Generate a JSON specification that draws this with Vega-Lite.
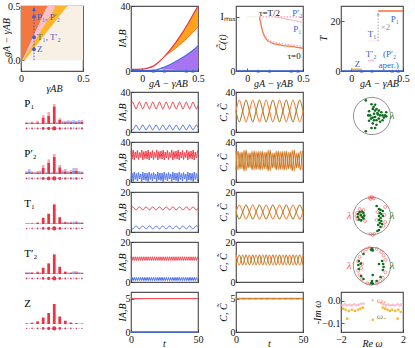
{
"$schema": "https://vega.github.io/schema/vega-lite/v6.json",
"padding": {"left": 0, "top": 0, "right": 0, "bottom": 0},
"config": {
  "view": {"stroke": "#555", "strokeWidth": 1.2},
  "font": "Liberation Serif",
  "axis": {"labelFont": "Liberation Serif", "titleFont": "Liberation Serif", "labelFontSize": 10, "titleFontSize": 10, "titleFontWeight": "normal", "titleFontStyle": "italic", "grid": false, "domain": false, "tickSize": -3, "tickColor": "#333", "tickWidth": 0.8, "labelColor": "#111", "titleColor": "#111", "labelPadding": 3, "labelFlush": false, "labelOverlap": false},
  "axisLeft": {"titleAngle": -90, "titleBaseline": "middle", "titleAlign": "center", "labelPadding": 4},
  "axisBottom": {"titleBaseline": "middle", "titleAlign": "center", "labelPadding": 5},
  "text": {"font": "Liberation Serif", "fontSize": 10}
},
"datasets": {
"top2": [
  {"x":-0.1,"r":1,"b":0.3},{"x":-0.05,"r":1,"b":0.3},{"x":0,"r":1.1,"b":0.3},{"x":0.05,"r":1.8,"b":0.3},{"x":0.1,"r":3,"b":0.5},
  {"x":0.15,"r":5.5,"b":1.2,"bl":1.2},{"x":0.2,"r":9,"rl":9,"b":2.5,"bl":0.8},{"x":0.25,"r":13,"rl":11.5,"b":4,"bl":0.7},{"x":0.3,"r":17.5,"rl":14,"b":5.8,"bl":0.6},
  {"x":0.35,"r":22.5,"rl":17,"b":7.8,"bl":0.6},{"x":0.4,"r":28,"rl":20,"b":10,"bl":0.6},{"x":0.45,"r":34,"rl":23.5,"b":12.5,"bl":0.6},{"x":0.5,"r":40,"rl":27,"b":15.5,"bl":0.6}],
"bars": [
{"r":"P1","i":-10,"s":"A","h":0.11,"l":0.05},{"r":"P1","i":-9,"s":"B","h":0.07,"l":0.03},{"r":"P1","i":-8,"s":"A","h":0.13,"l":0.06},{"r":"P1","i":-7,"s":"B","h":0.07,"l":0.03},{"r":"P1","i":-6,"s":"A","h":0.16,"l":0.07},{"r":"P1","i":-5,"s":"B","h":0.05,"l":0.02},{"r":"P1","i":-4,"s":"A","h":0.44,"l":0.31},{"r":"P1","i":-3,"s":"B","h":0.07,"l":0.03},{"r":"P1","i":-2,"s":"A","h":0.6,"l":0.4},{"r":"P1","i":-1,"s":"B","h":0.08,"l":0.04},{"r":"P1","i":0,"s":"A","h":1,"l":0.87},{"r":"P1","i":1,"s":"B","h":0.11,"l":0.05},{"r":"P1","i":2,"s":"A","h":0.29,"l":0.2},{"r":"P1","i":3,"s":"B","h":0.16,"l":0.08},{"r":"P1","i":4,"s":"A","h":0.16,"l":0.08},{"r":"P1","i":5,"s":"B","h":0.19,"l":0.1},{"r":"P1","i":6,"s":"A","h":0.17,"l":0.08},{"r":"P1","i":7,"s":"B","h":0.2,"l":0.1},{"r":"P1","i":8,"s":"A","h":0.15,"l":0.08},{"r":"P1","i":9,"s":"B","h":0.2,"l":0.1},{"r":"P1","i":10,"s":"A","h":0.2,"l":0.1},
{"r":"P2","i":-10,"s":"A","h":0.13,"l":0.07},{"r":"P2","i":-9,"s":"B","h":0.25,"l":0.12},{"r":"P2","i":-8,"s":"A","h":0.13,"l":0.07},{"r":"P2","i":-7,"s":"B","h":0.1,"l":0.05},{"r":"P2","i":-6,"s":"A","h":0.15,"l":0.07},{"r":"P2","i":-5,"s":"B","h":0.17,"l":0.08},{"r":"P2","i":-4,"s":"A","h":0.45,"l":0.3},{"r":"P2","i":-3,"s":"B","h":0.1,"l":0.05},{"r":"P2","i":-2,"s":"A","h":0.73,"l":0.55},{"r":"P2","i":-1,"s":"B","h":0.1,"l":0.05},{"r":"P2","i":0,"s":"A","h":1,"l":0.85},{"r":"P2","i":1,"s":"B","h":0.12,"l":0.06},{"r":"P2","i":2,"s":"A","h":0.45,"l":0.32},{"r":"P2","i":3,"s":"B","h":0.2,"l":0.1},{"r":"P2","i":4,"s":"A","h":0.25,"l":0.12},{"r":"P2","i":5,"s":"B","h":0.15,"l":0.08},{"r":"P2","i":6,"s":"A","h":0.2,"l":0.1},{"r":"P2","i":7,"s":"B","h":0.3,"l":0.15},{"r":"P2","i":8,"s":"A","h":0.3,"l":0.15},{"r":"P2","i":9,"s":"B","h":0.15,"l":0.08},{"r":"P2","i":10,"s":"A","h":0.13,"l":0.07},
{"r":"T1","i":-10,"s":"A","h":0.04,"l":0.02},{"r":"T1","i":-9,"s":"B","h":0.04,"l":0.02},{"r":"T1","i":-8,"s":"A","h":0.06,"l":0.03},{"r":"T1","i":-7,"s":"B","h":0.03,"l":0.01},{"r":"T1","i":-6,"s":"A","h":0.1,"l":0.05},{"r":"T1","i":-5,"s":"B","h":0.03,"l":0.01},{"r":"T1","i":-4,"s":"A","h":0.33,"l":0.3},{"r":"T1","i":-3,"s":"B","h":0.04,"l":0.02},{"r":"T1","i":-2,"s":"A","h":0.53,"l":0.5},{"r":"T1","i":-1,"s":"B","h":0.04,"l":0.02},{"r":"T1","i":0,"s":"A","h":1,"l":0.97},{"r":"T1","i":1,"s":"B","h":0.05,"l":0.02},{"r":"T1","i":2,"s":"A","h":0.36,"l":0.33},{"r":"T1","i":3,"s":"B","h":0.1,"l":0.05},{"r":"T1","i":4,"s":"A","h":0.12,"l":0.08},{"r":"T1","i":5,"s":"B","h":0.1,"l":0.05},{"r":"T1","i":6,"s":"A","h":0.12,"l":0.06},{"r":"T1","i":7,"s":"B","h":0.12,"l":0.06},{"r":"T1","i":8,"s":"A","h":0.14,"l":0.07},{"r":"T1","i":9,"s":"B","h":0.1,"l":0.05},{"r":"T1","i":10,"s":"A","h":0.1,"l":0.05},
{"r":"T2","i":-10,"s":"A","h":0.1,"l":0.05},{"r":"T2","i":-9,"s":"B","h":0.1,"l":0.05},{"r":"T2","i":-8,"s":"A","h":0.1,"l":0.06},{"r":"T2","i":-7,"s":"B","h":0.04,"l":0.02},{"r":"T2","i":-6,"s":"A","h":0.13,"l":0.08},{"r":"T2","i":-5,"s":"B","h":0.08,"l":0.04},{"r":"T2","i":-4,"s":"A","h":0.33,"l":0.3},{"r":"T2","i":-3,"s":"B","h":0.05,"l":0.02},{"r":"T2","i":-2,"s":"A","h":0.55,"l":0.52},{"r":"T2","i":-1,"s":"B","h":0.04,"l":0.02},{"r":"T2","i":0,"s":"A","h":1,"l":0.97},{"r":"T2","i":1,"s":"B","h":0.05,"l":0.02},{"r":"T2","i":2,"s":"A","h":0.38,"l":0.35},{"r":"T2","i":3,"s":"B","h":0.05,"l":0.02},{"r":"T2","i":4,"s":"A","h":0.14,"l":0.1},{"r":"T2","i":5,"s":"B","h":0.08,"l":0.04},{"r":"T2","i":6,"s":"A","h":0.1,"l":0.05},{"r":"T2","i":7,"s":"B","h":0.14,"l":0.07},{"r":"T2","i":8,"s":"A","h":0.14,"l":0.07},{"r":"T2","i":9,"s":"B","h":0.1,"l":0.05},{"r":"T2","i":10,"s":"A","h":0.08,"l":0.04},
{"r":"Z","i":-10,"s":"A","h":0.03,"l":0.03},{"r":"Z","i":-9,"s":"B","h":0.01,"l":0.01},{"r":"Z","i":-8,"s":"A","h":0.06,"l":0.06},{"r":"Z","i":-7,"s":"B","h":0.01,"l":0.01},{"r":"Z","i":-6,"s":"A","h":0.13,"l":0.13},{"r":"Z","i":-5,"s":"B","h":0.01,"l":0.01},{"r":"Z","i":-4,"s":"A","h":0.32,"l":0.32},{"r":"Z","i":-3,"s":"B","h":0.01,"l":0.01},{"r":"Z","i":-2,"s":"A","h":0.55,"l":0.55},{"r":"Z","i":-1,"s":"B","h":0.01,"l":0.01},{"r":"Z","i":0,"s":"A","h":1,"l":1},{"r":"Z","i":1,"s":"B","h":0.01,"l":0.01},{"r":"Z","i":2,"s":"A","h":0.37,"l":0.37},{"r":"Z","i":3,"s":"B","h":0.01,"l":0.01},{"r":"Z","i":4,"s":"A","h":0.16,"l":0.16},{"r":"Z","i":5,"s":"B","h":0.01,"l":0.01},{"r":"Z","i":6,"s":"A","h":0.07,"l":0.07},{"r":"Z","i":7,"s":"B","h":0.01,"l":0.01},{"r":"Z","i":8,"s":"A","h":0.04,"l":0.04},{"r":"Z","i":9,"s":"B","h":0.01,"l":0.01},{"r":"Z","i":10,"s":"A","h":0.02,"l":0.02}
],
"s5": [
{"t":0,"pa":26.5,"pb":4.5,"ta":11.8,"tb":2.3},{"t":1.25,"pa":30,"pb":2,"ta":12.6,"tb":1.5},{"t":2.5,"pa":26.5,"pb":4.5,"ta":11.8,"tb":2.3},{"t":3.75,"pa":23,"pb":7,"ta":11,"tb":3.1},
{"t":5,"pa":26.5,"pb":4.5,"ta":11.8,"tb":2.3},{"t":6.25,"pa":30,"pb":2,"ta":12.6,"tb":1.5},{"t":7.5,"pa":26.5,"pb":4.5,"ta":11.8,"tb":2.3},{"t":8.75,"pa":23,"pb":7,"ta":11,"tb":3.1},
{"t":10,"pa":26.5,"pb":4.5,"ta":11.8,"tb":2.3},{"t":11.25,"pa":30,"pb":2,"ta":12.6,"tb":1.5},{"t":12.5,"pa":26.5,"pb":4.5,"ta":11.8,"tb":2.3},{"t":13.75,"pa":23,"pb":7,"ta":11,"tb":3.1},
{"t":15,"pa":26.5,"pb":4.5,"ta":11.8,"tb":2.3},{"t":16.25,"pa":30,"pb":2,"ta":12.6,"tb":1.5},{"t":17.5,"pa":26.5,"pb":4.5,"ta":11.8,"tb":2.3},{"t":18.75,"pa":23,"pb":7,"ta":11,"tb":3.1},
{"t":20,"pa":26.5,"pb":4.5,"ta":11.8,"tb":2.3},{"t":21.25,"pa":30,"pb":2,"ta":12.6,"tb":1.5},{"t":22.5,"pa":26.5,"pb":4.5,"ta":11.8,"tb":2.3},{"t":23.75,"pa":23,"pb":7,"ta":11,"tb":3.1},
{"t":25,"pa":26.5,"pb":4.5,"ta":11.8,"tb":2.3},{"t":26.25,"pa":30,"pb":2,"ta":12.6,"tb":1.5},{"t":27.5,"pa":26.5,"pb":4.5,"ta":11.8,"tb":2.3},{"t":28.75,"pa":23,"pb":7,"ta":11,"tb":3.1},
{"t":30,"pa":26.5,"pb":4.5,"ta":11.8,"tb":2.3},{"t":31.25,"pa":30,"pb":2,"ta":12.6,"tb":1.5},{"t":32.5,"pa":26.5,"pb":4.5,"ta":11.8,"tb":2.3},{"t":33.75,"pa":23,"pb":7,"ta":11,"tb":3.1},
{"t":35,"pa":26.5,"pb":4.5,"ta":11.8,"tb":2.3},{"t":36.25,"pa":30,"pb":2,"ta":12.6,"tb":1.5},{"t":37.5,"pa":26.5,"pb":4.5,"ta":11.8,"tb":2.3},{"t":38.75,"pa":23,"pb":7,"ta":11,"tb":3.1},
{"t":40,"pa":26.5,"pb":4.5,"ta":11.8,"tb":2.3},{"t":41.25,"pa":30,"pb":2,"ta":12.6,"tb":1.5},{"t":42.5,"pa":26.5,"pb":4.5,"ta":11.8,"tb":2.3},{"t":43.75,"pa":23,"pb":7,"ta":11,"tb":3.1},
{"t":45,"pa":26.5,"pb":4.5,"ta":11.8,"tb":2.3},{"t":46.25,"pa":30,"pb":2,"ta":12.6,"tb":1.5},{"t":47.5,"pa":26.5,"pb":4.5,"ta":11.8,"tb":2.3},{"t":48.75,"pa":23,"pb":7,"ta":11,"tb":3.1},
{"t":50,"pa":26.5,"pb":4.5,"ta":11.8,"tb":2.3}
],
"s10": [
{"t":0,"pc":21,"pd":21,"tc":10,"td":10,"uc":13.5,"ud":8.5},{"t":2.5,"pc":32,"pd":10,"tc":13.5,"td":6.5,"uc":8.5,"ud":13.5},{"t":5,"pc":21,"pd":21,"tc":10,"td":10,"uc":13.5,"ud":8.5},{"t":7.5,"pc":10,"pd":32,"tc":6.5,"td":13.5,"uc":8.5,"ud":13.5},
{"t":10,"pc":21,"pd":21,"tc":10,"td":10,"uc":13.5,"ud":8.5},{"t":12.5,"pc":32,"pd":10,"tc":13.5,"td":6.5,"uc":8.5,"ud":13.5},{"t":15,"pc":21,"pd":21,"tc":10,"td":10,"uc":13.5,"ud":8.5},{"t":17.5,"pc":10,"pd":32,"tc":6.5,"td":13.5,"uc":8.5,"ud":13.5},
{"t":20,"pc":21,"pd":21,"tc":10,"td":10,"uc":13.5,"ud":8.5},{"t":22.5,"pc":32,"pd":10,"tc":13.5,"td":6.5,"uc":8.5,"ud":13.5},{"t":25,"pc":21,"pd":21,"tc":10,"td":10,"uc":13.5,"ud":8.5},{"t":27.5,"pc":10,"pd":32,"tc":6.5,"td":13.5,"uc":8.5,"ud":13.5},
{"t":30,"pc":21,"pd":21,"tc":10,"td":10,"uc":13.5,"ud":8.5},{"t":32.5,"pc":32,"pd":10,"tc":13.5,"td":6.5,"uc":8.5,"ud":13.5},{"t":35,"pc":21,"pd":21,"tc":10,"td":10,"uc":13.5,"ud":8.5},{"t":37.5,"pc":10,"pd":32,"tc":6.5,"td":13.5,"uc":8.5,"ud":13.5},
{"t":40,"pc":21,"pd":21,"tc":10,"td":10,"uc":13.5,"ud":8.5},{"t":42.5,"pc":32,"pd":10,"tc":13.5,"td":6.5,"uc":8.5,"ud":13.5},{"t":45,"pc":21,"pd":21,"tc":10,"td":10,"uc":13.5,"ud":8.5},{"t":47.5,"pc":10,"pd":32,"tc":6.5,"td":13.5,"uc":8.5,"ud":13.5},
{"t":50,"pc":21,"pd":21,"tc":10,"td":10,"uc":13.5,"ud":8.5}
],
"s08": [
{"t":0,"qa":31,"qb":1.5,"va":12.6,"vb":0.7},{"t":0.8,"qa":23,"qb":9,"va":10.8,"vb":2.3},{"t":1.6,"qa":32,"qb":0.5,"va":12.6,"vb":0.7},{"t":2.4,"qa":22,"qb":10,"va":10.8,"vb":2.3},
{"t":3.2,"qa":30,"qb":2.5,"va":12.6,"vb":0.7},{"t":4,"qa":24,"qb":8.5,"va":10.8,"vb":2.3},{"t":4.8,"qa":31.5,"qb":1,"va":12.6,"vb":0.7},{"t":5.6,"qa":22.5,"qb":9.5,"va":10.8,"vb":2.3},
{"t":6.4,"qa":29.5,"qb":3,"va":12.6,"vb":0.7},{"t":7.2,"qa":24.5,"qb":8,"va":10.8,"vb":2.3},{"t":8,"qa":32,"qb":0.5,"va":12.6,"vb":0.7},{"t":8.8,"qa":22,"qb":10,"va":10.8,"vb":2.3},
{"t":9.6,"qa":30.5,"qb":2,"va":12.6,"vb":0.7},{"t":10.4,"qa":23.5,"qb":9,"va":10.8,"vb":2.3},{"t":11.2,"qa":31,"qb":1.5,"va":12.6,"vb":0.7},{"t":12,"qa":23,"qb":9,"va":10.8,"vb":2.3},
{"t":12.8,"qa":32,"qb":0.5,"va":12.6,"vb":0.7},{"t":13.6,"qa":22,"qb":10,"va":10.8,"vb":2.3},{"t":14.4,"qa":30,"qb":2.5,"va":12.6,"vb":0.7},{"t":15.2,"qa":24,"qb":8.5,"va":10.8,"vb":2.3},
{"t":16,"qa":31.5,"qb":1,"va":12.6,"vb":0.7},{"t":16.8,"qa":22.5,"qb":9.5,"va":10.8,"vb":2.3},{"t":17.6,"qa":29.5,"qb":3,"va":12.6,"vb":0.7},{"t":18.4,"qa":24.5,"qb":8,"va":10.8,"vb":2.3},
{"t":19.2,"qa":32,"qb":0.5,"va":12.6,"vb":0.7},{"t":20,"qa":22,"qb":10,"va":10.8,"vb":2.3},{"t":20.8,"qa":30.5,"qb":2,"va":12.6,"vb":0.7},{"t":21.6,"qa":23.5,"qb":9,"va":10.8,"vb":2.3},
{"t":22.4,"qa":31,"qb":1.5,"va":12.6,"vb":0.7},{"t":23.2,"qa":23,"qb":9,"va":10.8,"vb":2.3},{"t":24,"qa":32,"qb":0.5,"va":12.6,"vb":0.7},{"t":24.8,"qa":22,"qb":10,"va":10.8,"vb":2.3},
{"t":25.6,"qa":30,"qb":2.5,"va":12.6,"vb":0.7},{"t":26.4,"qa":24,"qb":8.5,"va":10.8,"vb":2.3},{"t":27.2,"qa":31.5,"qb":1,"va":12.6,"vb":0.7},{"t":28,"qa":22.5,"qb":9.5,"va":10.8,"vb":2.3},
{"t":28.8,"qa":29.5,"qb":3,"va":12.6,"vb":0.7},{"t":29.6,"qa":24.5,"qb":8,"va":10.8,"vb":2.3},{"t":30.4,"qa":32,"qb":0.5,"va":12.6,"vb":0.7},{"t":31.2,"qa":22,"qb":10,"va":10.8,"vb":2.3},
{"t":32,"qa":30.5,"qb":2,"va":12.6,"vb":0.7},{"t":32.8,"qa":23.5,"qb":9,"va":10.8,"vb":2.3},{"t":33.6,"qa":31,"qb":1.5,"va":12.6,"vb":0.7},{"t":34.4,"qa":23,"qb":9,"va":10.8,"vb":2.3},
{"t":35.2,"qa":32,"qb":0.5,"va":12.6,"vb":0.7},{"t":36,"qa":22,"qb":10,"va":10.8,"vb":2.3},{"t":36.8,"qa":30,"qb":2.5,"va":12.6,"vb":0.7},{"t":37.6,"qa":24,"qb":8.5,"va":10.8,"vb":2.3},
{"t":38.4,"qa":31.5,"qb":1,"va":12.6,"vb":0.7},{"t":39.2,"qa":22.5,"qb":9.5,"va":10.8,"vb":2.3},{"t":40,"qa":29.5,"qb":3,"va":12.6,"vb":0.7},{"t":40.8,"qa":24.5,"qb":8,"va":10.8,"vb":2.3},
{"t":41.6,"qa":32,"qb":0.5,"va":12.6,"vb":0.7},{"t":42.4,"qa":22,"qb":10,"va":10.8,"vb":2.3},{"t":43.2,"qa":30.5,"qb":2,"va":12.6,"vb":0.7},{"t":44,"qa":23.5,"qb":9,"va":10.8,"vb":2.3},
{"t":44.8,"qa":31,"qb":1.5,"va":12.6,"vb":0.7},{"t":45.6,"qa":23,"qb":9,"va":10.8,"vb":2.3},{"t":46.4,"qa":32,"qb":0.5,"va":12.6,"vb":0.7},{"t":47.2,"qa":22,"qb":10,"va":10.8,"vb":2.3},
{"t":48,"qa":30,"qb":2.5,"va":12.6,"vb":0.7},{"t":48.8,"qa":24,"qb":8.5,"va":10.8,"vb":2.3},{"t":49.6,"qa":31.5,"qb":1,"va":12.6,"vb":0.7}
],
"s15": [
{"t":0,"wc":31,"wd":12},{"t":1.5,"wc":12,"wd":31},{"t":3,"wc":30,"wd":13},{"t":4.5,"wc":13,"wd":30},{"t":6,"wc":32,"wd":11},{"t":7.5,"wc":11,"wd":32},
{"t":9,"wc":29,"wd":14},{"t":10.5,"wc":14,"wd":29},{"t":12,"wc":31,"wd":12},{"t":13.5,"wc":12,"wd":31},{"t":15,"wc":30.5,"wd":12.5},{"t":16.5,"wc":12.5,"wd":30.5},
{"t":18,"wc":31,"wd":12},{"t":19.5,"wc":12,"wd":31},{"t":21,"wc":30,"wd":13},{"t":22.5,"wc":13,"wd":30},{"t":24,"wc":32,"wd":11},{"t":25.5,"wc":11,"wd":32},
{"t":27,"wc":29,"wd":14},{"t":28.5,"wc":14,"wd":29},{"t":30,"wc":31,"wd":12},{"t":31.5,"wc":12,"wd":31},{"t":33,"wc":30.5,"wd":12.5},{"t":34.5,"wc":12.5,"wd":30.5},
{"t":36,"wc":31,"wd":12},{"t":37.5,"wc":12,"wd":31},{"t":39,"wc":30,"wd":13},{"t":40.5,"wc":13,"wd":30},{"t":42,"wc":32,"wd":11},{"t":43.5,"wc":11,"wd":32},
{"t":45,"wc":29,"wd":14},{"t":46.5,"wc":14,"wd":29},{"t":48,"wc":31,"wd":12},{"t":49.5,"wc":12,"wd":31}
]
},
"columns": 4,
"align": "each",
"bounds": "flush",
"spacing": {"row": 10, "column": 38},
"concat": [
{
 "width": 62, "height": 65,
 "layer": [
  {"data": {"values": [
    {"reg":"b","y":0,"x1":0.03,"x2":0.5},{"reg":"b","y":0.5,"x1":0.373,"x2":0.5},
    {"reg":"o","y":-0.03,"x1":0,"x2":0},{"reg":"o","y":0.5,"x1":0,"x2":0.213},
    {"reg":"p","y":0,"x1":0.012,"x2":0.015},{"reg":"p","y":0.5,"x1":0.213,"x2":0.28},
    {"reg":"y","y":0,"x1":0.015,"x2":0.03},{"reg":"y","y":0.5,"x1":0.28,"x2":0.373}]},
   "mark": {"type": "area", "orient": "horizontal"},
   "encoding": {
    "y": {"field": "y", "type": "quantitative", "scale": {"domain": [-0.1, 0.5]}, "axis": {"values": [0, 0.5], "title": "gA − γAB", "titleX": -15, "titleY": 31}},
    "x": {"field": "x1", "type": "quantitative", "scale": {"domain": [0, 0.5]}, "axis": {"values": [0, 0.1, 0.2, 0.3, 0.4, 0.5], "labelExpr": "datum.value==0?'0':datum.value==0.5?'0.5':''", "title": "γAB", "titleX": 33, "titleY": 17}},
    "x2": {"field": "x2"},
    "color": {"field": "reg", "type": "nominal", "scale": {"domain": ["b","o","p","y"], "range": ["#f8f0e4","#f4773f","#f8bfcc","#ffb42a"]}, "legend": null}
   }},
  {"data": {"values": [{"x": 0.105}]}, "mark": {"type": "rule", "color": "#3a5fd0", "strokeDash": [1.5, 1.5], "strokeWidth": 1}, "encoding": {"x": {"field": "x", "type": "quantitative"}, "y": {"datum": 0}, "y2": {"datum": 0.5}}},
  {"data": {"values": [{"x": 0.105, "y": 0.47}]}, "mark": {"type": "point", "shape": "triangle-up", "filled": true, "color": "#3a5fd0", "size": 16, "opacity": 1}, "encoding": {"x": {"field": "x", "type": "quantitative"}, "y": {"field": "y", "type": "quantitative"}}},
  {"data": {"values": [{"x": 0.105, "y": 0.4, "lab": "P₁, P′₂"}, {"x": 0.105, "y": 0.21, "lab": "T₁, T′₂"}, {"x": 0.105, "y": 0.1, "lab": "Z"}]},
   "mark": {"type": "circle", "color": "#3a5fd0", "size": 14, "opacity": 1}, "encoding": {"x": {"field": "x", "type": "quantitative"}, "y": {"field": "y", "type": "quantitative"}}},
  {"data": {"values": [{"x": 0.105, "y": 0.4, "lab": "P₁, P′₂"}, {"x": 0.105, "y": 0.21, "lab": "T₁, T′₂"}, {"x": 0.105, "y": 0.1, "lab": "Z"}]},
   "mark": {"type": "text", "align": "left", "dx": 3, "color": "#3a5fd0", "fontSize": 9}, "encoding": {"x": {"field": "x", "type": "quantitative"}, "y": {"field": "y", "type": "quantitative"}, "text": {"field": "lab"}}}
 ]
},
{
 "width": 67, "height": 65,
 "layer": [
  {"data": {"name": "top2"}, "transform": [{"filter": "isValid(datum.rl)"}], "mark": {"type": "area", "color": "#ffa31a", "interpolate": "monotone"}, "encoding": {"x": {"field": "x", "type": "quantitative", "scale": {"domain": [-0.1, 0.5]}, "axis": {"values": [0, 0.1, 0.2, 0.3, 0.4, 0.5], "labelExpr": "datum.value==0?'0':datum.value==0.5?'0.5':''", "title": "gA − γAB", "titleX": 37, "titleY": 12}}, "y": {"field": "r", "type": "quantitative", "scale": {"domain": [0, 40]}, "axis": {"values": [0, 10, 20, 30, 40], "labelExpr": "datum.value==0||datum.value==40?datum.label:''", "title": "IA,B", "titleX": -9, "titleY": 32}}, "y2": {"field": "rl"}}},
  {"data": {"name": "top2"}, "transform": [{"filter": "isValid(datum.bl)"}], "mark": {"type": "area", "color": "#a874f2", "interpolate": "monotone"}, "encoding": {"x": {"field": "x", "type": "quantitative"}, "y": {"field": "b", "type": "quantitative"}, "y2": {"field": "bl"}}},
  {"data": {"name": "top2"}, "mark": {"type": "line", "color": "#ee3340", "strokeWidth": 1.2, "interpolate": "monotone"}, "encoding": {"x": {"field": "x", "type": "quantitative"}, "y": {"field": "r", "type": "quantitative"}}},
  {"data": {"name": "top2"}, "transform": [{"filter": "isValid(datum.rl)"}], "mark": {"type": "line", "color": "#f05a28", "strokeWidth": 0.8, "interpolate": "monotone"}, "encoding": {"x": {"field": "x", "type": "quantitative"}, "y": {"field": "rl", "type": "quantitative"}}},
  {"data": {"name": "top2"}, "mark": {"type": "line", "color": "#4a6ee8", "strokeWidth": 1.2, "interpolate": "monotone"}, "encoding": {"x": {"field": "x", "type": "quantitative"}, "y": {"field": "b", "type": "quantitative"}}},
  {"data": {"values": [{"x": -0.1}, {"x": 0.5}]}, "mark": {"type": "line", "color": "#3a5fd0", "strokeWidth": 1.5}, "encoding": {"x": {"field": "x", "type": "quantitative"}, "y": {"datum": 0}}},
  {"data": {"values": [{"g": 0.1}, {"g": 0.2}, {"g": 0.395}, {"g": 0.455}]}, "mark": {"type": "point", "shape": "triangle-up", "filled": true, "color": "#3a5fd0", "size": 12, "opacity": 1}, "encoding": {"x": {"field": "g", "type": "quantitative"}, "y": {"datum": 0}}}
 ]
},
{
 "width": 67, "height": 65,
 "layer": [
  {"data": {"values": [
    {"s":"g","x":0,"v":1},{"s":"g","x":0.11,"v":1},
    {"s":"yl","x":0.11,"v":1},{"s":"yl","x":0.12,"v":0.9},{"s":"yl","x":0.13,"v":0.8},{"s":"yl","x":0.14,"v":0.72},{"s":"yl","x":0.155,"v":0.64},{"s":"yl","x":0.17,"v":0.59},{"s":"yl","x":0.19,"v":0.55},{"s":"yl","x":0.2,"v":0.54},
    {"s":"o","x":0.2,"v":0.54},{"s":"o","x":0.23,"v":0.51},{"s":"o","x":0.27,"v":0.49},{"s":"o","x":0.32,"v":0.47},{"s":"o","x":0.41,"v":0.45},{"s":"o","x":0.5,"v":0.42},
    {"s":"u","x":0.245,"v":1},{"s":"u","x":0.3,"v":0.98},{"s":"u","x":0.35,"v":0.96},{"s":"u","x":0.4,"v":0.94},{"s":"u","x":0.45,"v":0.92},{"s":"u","x":0.5,"v":0.9}]},
   "mark": {"type": "line", "strokeWidth": 1.3, "interpolate": "monotone"},
   "encoding": {
    "x": {"field": "x", "type": "quantitative", "scale": {"domain": [-0.1, 0.5]}, "axis": {"values": [0, 0.1, 0.2, 0.3, 0.4, 0.5], "labelExpr": "datum.value==0?'0':datum.value==0.5?'0.5':''", "title": "gA − γAB", "titleX": 37, "titleY": 12}},
    "y": {"field": "v", "type": "quantitative", "scale": {"domain": [0, 1.2]}, "axis": {"values": [0, 1], "labelExpr": "datum.value==1?'Iₘₐₓ':'0'", "title": "C̃(t)", "titleX": -14, "titleY": 36}},
    "color": {"field": "s", "type": "nominal", "scale": {"domain": ["g","yl","o","u"], "range": ["#cdbfa3","#ffb020","#ff7a3d","#ff7a3d"]}, "legend": null}
   }},
  {"data": {"values": [
    {"s":"d1","x":0.11,"v":1},{"s":"d1","x":0.5,"v":1},
    {"s":"d2","x":0.15,"v":0.68},{"s":"d2","x":0.2,"v":0.56},{"s":"d2","x":0.25,"v":0.53},{"s":"d2","x":0.3,"v":0.51},{"s":"d2","x":0.4,"v":0.48},{"s":"d2","x":0.5,"v":0.46}]},
   "mark": {"type": "line", "strokeDash": [1.5, 1.5], "strokeWidth": 1.2, "color": "#f5a0b4", "interpolate": "monotone"},
   "encoding": {"x": {"field": "x", "type": "quantitative"}, "y": {"field": "v", "type": "quantitative"}, "detail": {"field": "s"}}},
  {"data": {"values": [{"x": -0.1}, {"x": 0.5}]}, "mark": {"type": "line", "color": "#3a5fd0", "strokeWidth": 1.5}, "encoding": {"x": {"field": "x", "type": "quantitative"}, "y": {"datum": 0}}},
  {"data": {"values": [{"g": 0.1}, {"g": 0.2}, {"g": 0.395}, {"g": 0.455}]}, "mark": {"type": "point", "shape": "triangle-up", "filled": true, "color": "#3a5fd0", "size": 12, "opacity": 1}, "encoding": {"x": {"field": "g", "type": "quantitative"}, "y": {"datum": 0}}},
  {"data": {"values": [{"x": 0.2, "y": 1.08, "lab": "τ=T/2"}, {"x": 0.42, "y": 0.28, "lab": "τ=0"}]}, "mark": {"type": "text", "fontSize": 9, "color": "#111"}, "encoding": {"x": {"field": "x", "type": "quantitative"}, "y": {"field": "y", "type": "quantitative"}, "text": {"field": "lab"}}},
  {"data": {"values": [{"x": 0.45, "y": 1.08, "lab": "P′₂"}, {"x": 0.45, "y": 0.78, "lab": "P₁"}]}, "mark": {"type": "text", "fontSize": 9, "color": "#3a5fd0"}, "encoding": {"x": {"field": "x", "type": "quantitative"}, "y": {"field": "y", "type": "quantitative"}, "text": {"field": "lab"}}}
 ]
},
{
 "width": 62, "height": 65,
 "layer": [
  {"data": {"values": [
    {"s":"Z","x":0,"v":0.7},{"s":"Z","x":0.1,"v":0.7},{"s":"T1","x":0.16,"v":12},{"s":"T1","x":0.26,"v":12},
    {"s":"P1","x":0.26,"v":24},{"s":"P1","x":0.5,"v":24},{"s":"T2","x":0.16,"v":4.2},{"s":"T2","x":0.22,"v":4.2}]},
   "mark": {"type": "line", "strokeWidth": 1.6},
   "encoding": {
    "x": {"field": "x", "type": "quantitative", "scale": {"domain": [-0.1, 0.5]}, "axis": {"values": [0, 0.1, 0.2, 0.3, 0.4, 0.5], "labelExpr": "datum.value==0?'0':datum.value==0.5?'0.5':''", "title": "gA − γAB", "titleX": 38, "titleY": 12}},
    "y": {"field": "v", "type": "quantitative", "scale": {"domain": [0, 25]}, "axis": {"values": [0, 10, 20], "labelExpr": "datum.value==10?'':datum.label", "title": "T", "titleX": -18, "titleY": 32}},
    "color": {"field": "s", "type": "nominal", "scale": {"domain": ["Z","T1","P1","T2"], "range": ["#c0c0c0","#ffb020","#f05a30","#f4a8c8"]}, "legend": null}
   }},
  {"data": {"values": [{"x": 0.26, "y1": 12, "y2": 22.8}]}, "mark": {"type": "rule", "color": "#aaa", "strokeDash": [1.5, 1.5], "strokeWidth": 1}, "encoding": {"x": {"field": "x", "type": "quantitative"}, "y": {"field": "y1", "type": "quantitative"}, "y2": {"field": "y2"}}},
  {"data": {"values": [{"x": 0.26, "y": 22.8}]}, "mark": {"type": "point", "shape": "triangle-up", "filled": true, "color": "#aaa", "size": 12, "opacity": 1}, "encoding": {"x": {"field": "x", "type": "quantitative"}, "y": {"field": "y", "type": "quantitative"}}},
  {"data": {"values": [{"x": -0.1}, {"x": 0.5}]}, "mark": {"type": "line", "color": "#3a5fd0", "strokeWidth": 1.5}, "encoding": {"x": {"field": "x", "type": "quantitative"}, "y": {"datum": 0}}},
  {"data": {"values": [{"g": 0.1}, {"g": 0.2}, {"g": 0.395}, {"g": 0.455}]}, "mark": {"type": "point", "shape": "triangle-up", "filled": true, "color": "#3a5fd0", "size": 12, "opacity": 1}, "encoding": {"x": {"field": "g", "type": "quantitative"}, "y": {"datum": 0}}},
  {"data": {"values": [{"x": 0.06, "y": 2.8, "lab": "Z"}, {"x": 0.2, "y": 14.8, "lab": "T₁"}, {"x": 0.42, "y": 20.8, "lab": "P₁"}, {"x": 0.19, "y": 6.9, "lab": "T′₂"}, {"x": 0.37, "y": 6.9, "lab": "(P′₂"}, {"x": 0.36, "y": 2.6, "lab": "aper.)"}]}, "mark": {"type": "text", "fontSize": 9, "color": "#3a5fd0"}, "encoding": {"x": {"field": "x", "type": "quantitative"}, "y": {"field": "y", "type": "quantitative"}, "text": {"field": "lab"}}},
  {"data": {"values": [{"x": 0.33, "y": 17.5, "lab": "×2"}]}, "mark": {"type": "text", "fontSize": 9, "color": "#999"}, "encoding": {"x": {"field": "x", "type": "quantitative"}, "y": {"field": "y", "type": "quantitative"}, "text": {"field": "lab"}}}
 ]
},
{"width": 1, "height": 1, "view": {"stroke": null}, "data": {"values": [{"k": 0}]}, "mark": {"type": "point", "opacity": 0}, "encoding": {"x": {"field": "k", "type": "quantitative", "axis": null}}},
{"width": 1, "height": 1, "view": {"stroke": null}, "data": {"values": [{"k": 0}]}, "mark": {"type": "point", "opacity": 0}, "encoding": {"x": {"field": "k", "type": "quantitative", "axis": null}}},
{"width": 1, "height": 1, "view": {"stroke": null}, "data": {"values": [{"k": 0}]}, "mark": {"type": "point", "opacity": 0}, "encoding": {"x": {"field": "k", "type": "quantitative", "axis": null}}},
{"width": 1, "height": 1, "view": {"stroke": null}, "data": {"values": [{"k": 0}]}, "mark": {"type": "point", "opacity": 0}, "encoding": {"x": {"field": "k", "type": "quantitative", "axis": null}}},

{"width": 72, "height": 40, "view": {"stroke": null},
 "layer": [
  {"data": {"name": "bars"}, "transform": [{"filter": "datum.r=='P1'"}], "mark": {"type": "bar", "width": 2.6}, "encoding": {"x": {"field": "i", "type": "quantitative", "scale": {"domain": [-8.63, 11.1]}, "axis": null}, "y": {"field": "h", "type": "quantitative", "scale": {"domain": [-0.26, 1.435]}, "axis": null}, "y2": {"datum": 0}, "color": {"condition": {"test": "datum.s=='B'", "value": "#b6c2f2"}, "value": "#f5a8b0"}}},
  {"data": {"name": "bars"}, "transform": [{"filter": "datum.r=='P1'"}], "mark": {"type": "bar", "width": 2.6}, "encoding": {"x": {"field": "i", "type": "quantitative"}, "y": {"field": "l", "type": "quantitative"}, "y2": {"datum": 0}, "color": {"condition": {"test": "datum.s=='B'", "value": "#6f8be8"}, "value": "#ee3340"}}},
  {"data": {"name": "bars"}, "transform": [{"filter": "datum.r=='P1'"}], "mark": {"type": "circle", "opacity": 1}, "encoding": {"x": {"field": "i", "type": "quantitative"}, "y": {"datum": -0.22}, "size": {"field": "h", "type": "quantitative", "scale": {"domain": [0, 1], "range": [1.5, 18]}, "legend": null}, "color": {"condition": {"test": "datum.s=='B'", "value": "#aab6f0"}, "value": "#ee3340"}}},
  {"data": {"values": [{"lab": "P₁", "i": -10.8, "v": 1.0}]}, "mark": {"type": "text", "align": "left", "baseline": "middle", "fontSize": 11}, "encoding": {"x": {"field": "i", "type": "quantitative"}, "y": {"field": "v", "type": "quantitative"}, "text": {"field": "lab"}}}
 ]},
{"width": 67, "height": 40,
 "layer": [
  {"data": {"name": "s5"}, "mark": {"type": "line", "color": "#ee3340", "strokeWidth": 1, "interpolate": "monotone"}, "encoding": {"x": {"field": "t", "type": "quantitative", "scale": {"domain": [0, 50]}, "axis": {"values": [0, 10, 20, 30, 40, 50], "labels": false, "title": null}}, "y": {"field": "pa", "type": "quantitative", "scale": {"domain": [0, 40]}, "axis": {"values": [0, 10, 20, 30, 40], "labelExpr": "datum.value==0||datum.value==40?datum.label:''", "title": "IA,B", "titleX": -9, "titleY": 20}}}},
  {"data": {"name": "s5"}, "mark": {"type": "line", "color": "#4a6ee8", "strokeWidth": 1, "interpolate": "monotone"}, "encoding": {"x": {"field": "t", "type": "quantitative"}, "y": {"field": "pb", "type": "quantitative"}}}
 ]},
{"width": 67, "height": 40,
 "layer": [
  {"data": {"name": "s10"}, "mark": {"type": "line", "color": "#ff7f3f", "strokeWidth": 1.1, "interpolate": "monotone"}, "encoding": {"x": {"field": "t", "type": "quantitative", "scale": {"domain": [0, 50]}, "axis": {"values": [0, 10, 20, 30, 40, 50], "labels": false, "title": null}}, "y": {"field": "pc", "type": "quantitative", "scale": {"domain": [0, 40]}, "axis": {"values": [0, 10, 20, 30, 40], "labelExpr": "datum.value==0||datum.value==40?datum.label:''", "title": "C, C̃", "titleX": -13, "titleY": 20}}}},
  {"data": {"name": "s10"}, "mark": {"type": "line", "color": "#a8862c", "strokeWidth": 1.1, "interpolate": "monotone"}, "encoding": {"x": {"field": "t", "type": "quantitative"}, "y": {"field": "pd", "type": "quantitative"}}}
 ]},
{"width": 62, "height": 40, "view": {"stroke": null},
 "layer": [
  {"data": {"values": [{"x": 0, "y": 0}]}, "mark": {"type": "point", "shape": "circle", "size": 1385, "filled": false, "color": "#777", "strokeWidth": 0.8, "opacity": 1}, "encoding": {"x": {"field": "x", "type": "quantitative", "scale": {"domain": [-1.52, 1.43]}, "axis": null}, "y": {"field": "y", "type": "quantitative", "scale": {"domain": [-0.786, 1.119]}, "axis": null}}},
  {"data": {"values": [{"x":-0.4,"y":0.78},{"x":-0.4,"y":-0.76},{"x":-0.03,"y":0.59},{"x":0.2,"y":0.56},{"x":-0.19,"y":0.24},{"x":0.05,"y":0.35},{"x":0.29,"y":0.35},{"x":0.44,"y":0.27},{"x":0.6,"y":0.19},{"x":0.68,"y":0.03},{"x":0.76,"y":-0.08},{"x":0.92,"y":0.19},{"x":0.92,"y":-0.02},{"x":-0.19,"y":-0.24},{"x":0.05,"y":-0.37},{"x":0.29,"y":-0.44},{"x":0.52,"y":-0.29},{"x":0.2,"y":-0.6},{"x":-0.03,"y":-0.6},{"x":0.13,"y":0.11},{"x":0.2,"y":-0.05},{"x":0.05,"y":-0.08},{"x":-0.11,"y":0.03},{"x":0.37,"y":0.08},{"x":0.44,"y":-0.13},{"x":0.29,"y":-0.21},{"x":0.13,"y":-0.21},{"x":-0.06,"y":-0.13},{"x":-0.24,"y":0.03},{"x":0.2,"y":0.27},{"x":0.52,"y":0.03},{"x":0.68,"y":-0.21},{"x":0.84,"y":0.03},{"x":0.1,"y":0.45},{"x":0.35,"y":0.15}]},
   "mark": {"type": "circle", "size": 7, "color": "#0d6e1e", "opacity": 1}, "encoding": {"x": {"field": "x", "type": "quantitative"}, "y": {"field": "y", "type": "quantitative"}}},
  {"data": {"values": [{"x": 1.3, "y": 0, "lab": "λ"}]}, "mark": {"type": "text", "color": "#2a8a2a", "fontStyle": "italic", "fontSize": 11}, "encoding": {"x": {"field": "x", "type": "quantitative"}, "y": {"field": "y", "type": "quantitative"}, "text": {"field": "lab"}}}
 ]},

{"width": 72, "height": 40, "view": {"stroke": null},
 "layer": [
  {"data": {"name": "bars"}, "transform": [{"filter": "datum.r=='P2'"}], "mark": {"type": "bar", "width": 2.6}, "encoding": {"x": {"field": "i", "type": "quantitative", "scale": {"domain": [-8.63, 11.1]}, "axis": null}, "y": {"field": "h", "type": "quantitative", "scale": {"domain": [-0.26, 1.435]}, "axis": null}, "y2": {"datum": 0}, "color": {"condition": {"test": "datum.s=='B'", "value": "#b6c2f2"}, "value": "#f5a8b0"}}},
  {"data": {"name": "bars"}, "transform": [{"filter": "datum.r=='P2'"}], "mark": {"type": "bar", "width": 2.6}, "encoding": {"x": {"field": "i", "type": "quantitative"}, "y": {"field": "l", "type": "quantitative"}, "y2": {"datum": 0}, "color": {"condition": {"test": "datum.s=='B'", "value": "#6f8be8"}, "value": "#ee3340"}}},
  {"data": {"name": "bars"}, "transform": [{"filter": "datum.r=='P2'"}], "mark": {"type": "circle", "opacity": 1}, "encoding": {"x": {"field": "i", "type": "quantitative"}, "y": {"datum": -0.22}, "size": {"field": "h", "type": "quantitative", "scale": {"domain": [0, 1], "range": [1.5, 18]}, "legend": null}, "color": {"condition": {"test": "datum.s=='B'", "value": "#aab6f0"}, "value": "#ee3340"}}},
  {"data": {"values": [{"lab": "P′₂", "i": -10.8, "v": 1.0}]}, "mark": {"type": "text", "align": "left", "baseline": "middle", "fontSize": 11}, "encoding": {"x": {"field": "i", "type": "quantitative"}, "y": {"field": "v", "type": "quantitative"}, "text": {"field": "lab"}}}
 ]},
{"width": 67, "height": 40,
 "layer": [
  {"data": {"name": "s08"}, "mark": {"type": "line", "color": "#ee3340", "strokeWidth": 1, "interpolate": "monotone"}, "encoding": {"x": {"field": "t", "type": "quantitative", "scale": {"domain": [0, 50]}, "axis": {"values": [0, 10, 20, 30, 40, 50], "labels": false, "title": null}}, "y": {"field": "qa", "type": "quantitative", "scale": {"domain": [0, 40]}, "axis": {"values": [0, 10, 20, 30, 40], "labelExpr": "datum.value==0||datum.value==40?datum.label:''", "title": "IA,B", "titleX": -9, "titleY": 20}}}},
  {"data": {"name": "s08"}, "mark": {"type": "line", "color": "#4a6ee8", "strokeWidth": 1, "interpolate": "monotone"}, "encoding": {"x": {"field": "t", "type": "quantitative"}, "y": {"field": "qb", "type": "quantitative"}}}
 ]},
{"width": 67, "height": 40,
 "layer": [
  {"data": {"name": "s15"}, "mark": {"type": "line", "color": "#ff7f3f", "strokeWidth": 1.1, "interpolate": "monotone"}, "encoding": {"x": {"field": "t", "type": "quantitative", "scale": {"domain": [0, 50]}, "axis": {"values": [0, 10, 20, 30, 40, 50], "labels": false, "title": null}}, "y": {"field": "wc", "type": "quantitative", "scale": {"domain": [0, 40]}, "axis": {"values": [0, 10, 20, 30, 40], "labelExpr": "datum.value==0||datum.value==40?datum.label:''", "title": "C, C̃", "titleX": -13, "titleY": 20}}}},
  {"data": {"name": "s15"}, "mark": {"type": "line", "color": "#a8862c", "strokeWidth": 1.1, "interpolate": "monotone"}, "encoding": {"x": {"field": "t", "type": "quantitative"}, "y": {"field": "wd", "type": "quantitative"}}}
 ]},
{"width": 62, "height": 40, "view": {"stroke": null}, "data": {"values": [{"k": 0}]}, "mark": {"type": "point", "opacity": 0}, "encoding": {"x": {"field": "k", "type": "quantitative", "axis": null}}},

{"width": 72, "height": 40, "view": {"stroke": null},
 "layer": [
  {"data": {"name": "bars"}, "transform": [{"filter": "datum.r=='T1'"}], "mark": {"type": "bar", "width": 2.6}, "encoding": {"x": {"field": "i", "type": "quantitative", "scale": {"domain": [-8.63, 11.1]}, "axis": null}, "y": {"field": "h", "type": "quantitative", "scale": {"domain": [-0.26, 1.435]}, "axis": null}, "y2": {"datum": 0}, "color": {"condition": {"test": "datum.s=='B'", "value": "#b6c2f2"}, "value": "#f5a8b0"}}},
  {"data": {"name": "bars"}, "transform": [{"filter": "datum.r=='T1'"}], "mark": {"type": "bar", "width": 2.6}, "encoding": {"x": {"field": "i", "type": "quantitative"}, "y": {"field": "l", "type": "quantitative"}, "y2": {"datum": 0}, "color": {"condition": {"test": "datum.s=='B'", "value": "#6f8be8"}, "value": "#ee3340"}}},
  {"data": {"name": "bars"}, "transform": [{"filter": "datum.r=='T1'"}], "mark": {"type": "circle", "opacity": 1}, "encoding": {"x": {"field": "i", "type": "quantitative"}, "y": {"datum": -0.22}, "size": {"field": "h", "type": "quantitative", "scale": {"domain": [0, 1], "range": [1.5, 18]}, "legend": null}, "color": {"condition": {"test": "datum.s=='B'", "value": "#aab6f0"}, "value": "#ee3340"}}},
  {"data": {"values": [{"lab": "T₁", "i": -10.8, "v": 1.0}]}, "mark": {"type": "text", "align": "left", "baseline": "middle", "fontSize": 11}, "encoding": {"x": {"field": "i", "type": "quantitative"}, "y": {"field": "v", "type": "quantitative"}, "text": {"field": "lab"}}}
 ]},
{"width": 67, "height": 40,
 "layer": [
  {"data": {"name": "s5"}, "mark": {"type": "line", "color": "#ee3340", "strokeWidth": 1, "interpolate": "monotone"}, "encoding": {"x": {"field": "t", "type": "quantitative", "scale": {"domain": [0, 50]}, "axis": {"values": [0, 10, 20, 30, 40, 50], "labels": false, "title": null}}, "y": {"field": "ta", "type": "quantitative", "scale": {"domain": [0, 20]}, "axis": {"values": [0, 5, 10, 15, 20], "labelExpr": "datum.value==0||datum.value==20?datum.label:''", "title": "IA,B", "titleX": -9, "titleY": 20}}}},
  {"data": {"name": "s5"}, "mark": {"type": "line", "color": "#4a6ee8", "strokeWidth": 1, "interpolate": "monotone"}, "encoding": {"x": {"field": "t", "type": "quantitative"}, "y": {"field": "tb", "type": "quantitative"}}}
 ]},
{"width": 67, "height": 40,
 "layer": [
  {"data": {"name": "s10"}, "mark": {"type": "line", "color": "#ff7f3f", "strokeWidth": 1.1, "interpolate": "monotone"}, "encoding": {"x": {"field": "t", "type": "quantitative", "scale": {"domain": [0, 50]}, "axis": {"values": [0, 10, 20, 30, 40, 50], "labels": false, "title": null}}, "y": {"field": "tc", "type": "quantitative", "scale": {"domain": [0, 20]}, "axis": {"values": [0, 5, 10, 15, 20], "labelExpr": "datum.value==0||datum.value==20?datum.label:''", "title": "C, C̃", "titleX": -13, "titleY": 20}}}},
  {"data": {"name": "s10"}, "mark": {"type": "line", "color": "#a8862c", "strokeWidth": 1.1, "interpolate": "monotone"}, "encoding": {"x": {"field": "t", "type": "quantitative"}, "y": {"field": "td", "type": "quantitative"}}}
 ]},
{"width": 62, "height": 40, "view": {"stroke": null},
 "layer": [
  {"data": {"values": [{"x": 0, "y": 0}]}, "mark": {"type": "point", "shape": "circle", "size": 1385, "filled": false, "color": "#777", "strokeWidth": 0.8, "opacity": 1}, "encoding": {"x": {"field": "x", "type": "quantitative", "scale": {"domain": [-1.52, 1.43]}, "axis": null}, "y": {"field": "y", "type": "quantitative", "scale": {"domain": [-0.786, 1.119]}, "axis": null}}},
  {"data": {"values": [{"x":-0.15,"y":0.92},{"x":-0.05,"y":0.95},{"x":0.05,"y":0.93},{"x":0.12,"y":0.88},{"x":-0.1,"y":0.85},{"x":-0.95,"y":0.15},{"x":-1.0,"y":0},{"x":-0.95,"y":-0.15},{"x":-0.8,"y":0.35},{"x":-0.55,"y":0.3},{"x":-0.45,"y":-0.25},{"x":0.85,"y":0.45},{"x":0.8,"y":0.05},{"x":0.85,"y":-0.3},{"x":0.75,"y":-0.5},{"x":0.35,"y":0.2},{"x":0.3,"y":-0.2},{"x":-0.1,"y":-0.9},{"x":0.05,"y":-0.95},{"x":0.15,"y":-0.9},{"x":-0.75,"y":0.05},{"x":-0.7,"y":-0.1}]},
   "mark": {"type": "point", "shape": "circle", "size": 9, "filled": false, "color": "#f25a5a", "strokeWidth": 0.6, "opacity": 1}, "encoding": {"x": {"field": "x", "type": "quantitative"}, "y": {"field": "y", "type": "quantitative"}}},
  {"data": {"values": [{"x":-0.55,"y":0.15},{"x":-0.65,"y":0.22},{"x":-0.8,"y":0.2},{"x":-0.9,"y":0.1},{"x":-0.92,"y":-0.05},{"x":-0.85,"y":-0.18},{"x":-0.7,"y":-0.22},{"x":-0.55,"y":-0.12},{"x":-0.5,"y":0.02},{"x":-0.72,"y":0.05},{"x":-0.62,"y":-0.05},{"x":0.45,"y":0.35},{"x":0.55,"y":0.3},{"x":0.5,"y":0.15},{"x":0.6,"y":0.1},{"x":0.45,"y":0},{"x":0.7,"y":0},{"x":0.55,"y":-0.1},{"x":0.45,"y":-0.2},{"x":0.6,"y":-0.25},{"x":0.5,"y":-0.35},{"x":0.65,"y":-0.4},{"x":0.55,"y":-0.55},{"x":0.3,"y":0.5},{"x":0.7,"y":0.25},{"x":0.4,"y":-0.45},{"x":0.35,"y":-0.75},{"x":0.45,"y":-0.7}]},
   "mark": {"type": "circle", "size": 7, "color": "#0d6e1e", "opacity": 1}, "encoding": {"x": {"field": "x", "type": "quantitative"}, "y": {"field": "y", "type": "quantitative"}}},
  {"data": {"values": [{"x": 1.3, "y": 0, "lab": "λ"}]}, "mark": {"type": "text", "color": "#2a8a2a", "fontStyle": "italic", "fontSize": 11}, "encoding": {"x": {"field": "x", "type": "quantitative"}, "y": {"field": "y", "type": "quantitative"}, "text": {"field": "lab"}}},
  {"data": {"values": [{"x": -1.4, "y": 0, "lab": "λ′"}]}, "mark": {"type": "text", "color": "#f25a5a", "fontStyle": "italic", "fontSize": 11}, "encoding": {"x": {"field": "x", "type": "quantitative"}, "y": {"field": "y", "type": "quantitative"}, "text": {"field": "lab"}}}
 ]},

{"width": 72, "height": 40, "view": {"stroke": null},
 "layer": [
  {"data": {"name": "bars"}, "transform": [{"filter": "datum.r=='T2'"}], "mark": {"type": "bar", "width": 2.6}, "encoding": {"x": {"field": "i", "type": "quantitative", "scale": {"domain": [-8.63, 11.1]}, "axis": null}, "y": {"field": "h", "type": "quantitative", "scale": {"domain": [-0.26, 1.435]}, "axis": null}, "y2": {"datum": 0}, "color": {"condition": {"test": "datum.s=='B'", "value": "#b6c2f2"}, "value": "#f5a8b0"}}},
  {"data": {"name": "bars"}, "transform": [{"filter": "datum.r=='T2'"}], "mark": {"type": "bar", "width": 2.6}, "encoding": {"x": {"field": "i", "type": "quantitative"}, "y": {"field": "l", "type": "quantitative"}, "y2": {"datum": 0}, "color": {"condition": {"test": "datum.s=='B'", "value": "#6f8be8"}, "value": "#ee3340"}}},
  {"data": {"name": "bars"}, "transform": [{"filter": "datum.r=='T2'"}], "mark": {"type": "circle", "opacity": 1}, "encoding": {"x": {"field": "i", "type": "quantitative"}, "y": {"datum": -0.22}, "size": {"field": "h", "type": "quantitative", "scale": {"domain": [0, 1], "range": [1.5, 18]}, "legend": null}, "color": {"condition": {"test": "datum.s=='B'", "value": "#aab6f0"}, "value": "#ee3340"}}},
  {"data": {"values": [{"lab": "T′₂", "i": -10.8, "v": 1.0}]}, "mark": {"type": "text", "align": "left", "baseline": "middle", "fontSize": 11}, "encoding": {"x": {"field": "i", "type": "quantitative"}, "y": {"field": "v", "type": "quantitative"}, "text": {"field": "lab"}}}
 ]},
{"width": 67, "height": 40,
 "layer": [
  {"data": {"name": "s08"}, "mark": {"type": "line", "color": "#ee3340", "strokeWidth": 1, "interpolate": "monotone"}, "encoding": {"x": {"field": "t", "type": "quantitative", "scale": {"domain": [0, 50]}, "axis": {"values": [0, 10, 20, 30, 40, 50], "labels": false, "title": null}}, "y": {"field": "va", "type": "quantitative", "scale": {"domain": [0, 20]}, "axis": {"values": [0, 5, 10, 15, 20], "labelExpr": "datum.value==0||datum.value==20?datum.label:''", "title": "IA,B", "titleX": -9, "titleY": 20}}}},
  {"data": {"name": "s08"}, "mark": {"type": "line", "color": "#4a6ee8", "strokeWidth": 1, "interpolate": "monotone"}, "encoding": {"x": {"field": "t", "type": "quantitative"}, "y": {"field": "vb", "type": "quantitative"}}}
 ]},
{"width": 67, "height": 40,
 "layer": [
  {"data": {"name": "s10"}, "mark": {"type": "line", "color": "#ff7f3f", "strokeWidth": 1.1, "interpolate": "monotone"}, "encoding": {"x": {"field": "t", "type": "quantitative", "scale": {"domain": [0, 50]}, "axis": {"values": [0, 10, 20, 30, 40, 50], "labels": false, "title": null}}, "y": {"field": "uc", "type": "quantitative", "scale": {"domain": [0, 20]}, "axis": {"values": [0, 5, 10, 15, 20], "labelExpr": "datum.value==0||datum.value==20?datum.label:''", "title": "C, C̃", "titleX": -13, "titleY": 20}}}},
  {"data": {"name": "s10"}, "mark": {"type": "line", "color": "#a8862c", "strokeWidth": 1.1, "interpolate": "monotone"}, "encoding": {"x": {"field": "t", "type": "quantitative"}, "y": {"field": "ud", "type": "quantitative"}}}
 ]},
{"width": 62, "height": 40, "view": {"stroke": null},
 "layer": [
  {"data": {"values": [{"x": 0, "y": 0}]}, "mark": {"type": "point", "shape": "circle", "size": 1385, "filled": false, "color": "#777", "strokeWidth": 0.8, "opacity": 1}, "encoding": {"x": {"field": "x", "type": "quantitative", "scale": {"domain": [-1.52, 1.43]}, "axis": null}, "y": {"field": "y", "type": "quantitative", "scale": {"domain": [-0.786, 1.119]}, "axis": null}}},
  {"data": {"values": [{"x":0.86,"y":0.31},{"x":0.75,"y":0.53},{"x":0.59,"y":0.7},{"x":0.31,"y":0.86},{"x":-0.16,"y":0.91},{"x":-0.39,"y":0.83},{"x":-0.59,"y":0.7},{"x":-0.8,"y":0.46},{"x":-0.89,"y":0.24},{"x":-0.89,"y":-0.24},{"x":-0.8,"y":-0.46},{"x":-0.65,"y":-0.65},{"x":-0.31,"y":-0.86},{"x":-0.08,"y":-0.92},{"x":0.31,"y":-0.86},{"x":0.53,"y":-0.75},{"x":0.7,"y":-0.59},{"x":0.86,"y":-0.31},{"x":-0.65,"y":0.1},{"x":-0.7,"y":-0.1}]},
   "mark": {"type": "point", "shape": "circle", "size": 9, "filled": false, "color": "#f25a5a", "strokeWidth": 0.6, "opacity": 1}, "encoding": {"x": {"field": "x", "type": "quantitative"}, "y": {"field": "y", "type": "quantitative"}}},
  {"data": {"values": [{"x":0,"y":0.87},{"x":0.05,"y":0.78},{"x":-0.05,"y":0.8},{"x":-0.55,"y":0.6},{"x":-0.85,"y":0.25},{"x":-0.88,"y":0.05},{"x":-0.85,"y":-0.15},{"x":-0.72,"y":0.12},{"x":-0.7,"y":-0.5},{"x":-0.55,"y":-0.65},{"x":-0.05,"y":-0.85},{"x":0.05,"y":-0.88},{"x":0,"y":-0.75},{"x":0.3,"y":-0.75},{"x":0.65,"y":0.25},{"x":0.72,"y":0.1},{"x":0.75,"y":-0.05},{"x":0.7,"y":-0.2},{"x":0.45,"y":0.1},{"x":0.55,"y":-0.55},{"x":0.05,"y":-0.45}]},
   "mark": {"type": "circle", "size": 7, "color": "#0d6e1e", "opacity": 1}, "encoding": {"x": {"field": "x", "type": "quantitative"}, "y": {"field": "y", "type": "quantitative"}}},
  {"data": {"values": [{"x": 1.3, "y": 0, "lab": "λ"}]}, "mark": {"type": "text", "color": "#2a8a2a", "fontStyle": "italic", "fontSize": 11}, "encoding": {"x": {"field": "x", "type": "quantitative"}, "y": {"field": "y", "type": "quantitative"}, "text": {"field": "lab"}}},
  {"data": {"values": [{"x": -1.4, "y": 0, "lab": "λ′"}]}, "mark": {"type": "text", "color": "#f25a5a", "fontStyle": "italic", "fontSize": 11}, "encoding": {"x": {"field": "x", "type": "quantitative"}, "y": {"field": "y", "type": "quantitative"}, "text": {"field": "lab"}}}
 ]},

{"width": 72, "height": 40, "view": {"stroke": null},
 "layer": [
  {"data": {"name": "bars"}, "transform": [{"filter": "datum.r=='Z'"}], "mark": {"type": "bar", "width": 2.6}, "encoding": {"x": {"field": "i", "type": "quantitative", "scale": {"domain": [-8.63, 11.1]}, "axis": null}, "y": {"field": "h", "type": "quantitative", "scale": {"domain": [-0.26, 1.435]}, "axis": null}, "y2": {"datum": 0}, "color": {"condition": {"test": "datum.s=='B'", "value": "#b6c2f2"}, "value": "#f5a8b0"}}},
  {"data": {"name": "bars"}, "transform": [{"filter": "datum.r=='Z'"}], "mark": {"type": "bar", "width": 2.6}, "encoding": {"x": {"field": "i", "type": "quantitative"}, "y": {"field": "l", "type": "quantitative"}, "y2": {"datum": 0}, "color": {"condition": {"test": "datum.s=='B'", "value": "#6f8be8"}, "value": "#ee3340"}}},
  {"data": {"name": "bars"}, "transform": [{"filter": "datum.r=='Z'"}], "mark": {"type": "circle", "opacity": 1}, "encoding": {"x": {"field": "i", "type": "quantitative"}, "y": {"datum": -0.22}, "size": {"field": "h", "type": "quantitative", "scale": {"domain": [0, 1], "range": [1.5, 18]}, "legend": null}, "color": {"condition": {"test": "datum.s=='B'", "value": "#aab6f0"}, "value": "#ee3340"}}},
  {"data": {"values": [{"lab": "Z", "i": -10.8, "v": 1.0}]}, "mark": {"type": "text", "align": "left", "baseline": "middle", "fontSize": 11}, "encoding": {"x": {"field": "i", "type": "quantitative"}, "y": {"field": "v", "type": "quantitative"}, "text": {"field": "lab"}}}
 ]},
{"width": 67, "height": 40,
 "layer": [
  {"data": {"values": [{"t": 0, "a": 5}, {"t": 50, "a": 5}]}, "mark": {"type": "line", "color": "#ee3340", "strokeWidth": 1}, "encoding": {"x": {"field": "t", "type": "quantitative", "scale": {"domain": [0, 50]}, "axis": {"values": [0, 10, 20, 30, 40, 50], "labelExpr": "datum.value==0||datum.value==50?datum.label:''", "title": "t", "titleX": 33, "titleY": 11}}, "y": {"field": "a", "type": "quantitative", "scale": {"domain": [0, 6]}, "axis": {"values": [0, 1, 2, 3, 4, 5], "labelExpr": "datum.value==0||datum.value==5?datum.label:''", "title": "IA,B", "titleX": -9, "titleY": 20}}}},
  {"data": {"values": [{"t": 0, "b": 0}, {"t": 50, "b": 0}]}, "mark": {"type": "line", "color": "#4a6ee8", "strokeWidth": 1.5}, "encoding": {"x": {"field": "t", "type": "quantitative"}, "y": {"field": "b", "type": "quantitative"}}}
 ]},
{"width": 67, "height": 40,
 "layer": [
  {"data": {"values": [{"t": 0, "c": 5}, {"t": 50, "c": 5}]}, "mark": {"type": "line", "color": "#ff7f3f", "strokeWidth": 1.6}, "encoding": {"x": {"field": "t", "type": "quantitative", "scale": {"domain": [0, 50]}, "axis": {"values": [0, 10, 20, 30, 40, 50], "labelExpr": "datum.value==0||datum.value==50?datum.label:''", "title": "t", "titleX": 33, "titleY": 11}}, "y": {"field": "c", "type": "quantitative", "scale": {"domain": [0, 6]}, "axis": {"values": [0, 1, 2, 3, 4, 5], "labelExpr": "datum.value==0||datum.value==5?datum.label:''", "title": "C, C̃", "titleX": -13, "titleY": 20}}}},
  {"data": {"values": [{"t": 0, "c": 5}, {"t": 50, "c": 5}]}, "mark": {"type": "line", "color": "#a8862c", "strokeWidth": 1, "strokeDash": [3, 3]}, "encoding": {"x": {"field": "t", "type": "quantitative"}, "y": {"field": "c", "type": "quantitative"}}}
 ]},
{"width": 62, "height": 40,
 "layer": [
  {"data": {"values": [
    {"k":"p","x":-1.9,"y":-0.02},{"k":"p","x":-1.75,"y":-0.015},{"k":"p","x":-1.6,"y":-0.02},{"k":"p","x":-1.45,"y":-0.018},{"k":"p","x":-1.3,"y":-0.02},{"k":"p","x":-1.15,"y":-0.016},{"k":"p","x":-1.0,"y":-0.02},{"k":"p","x":-0.85,"y":-0.017},{"k":"p","x":-0.7,"y":-0.013},{"k":"p","x":-0.55,"y":-0.012},{"k":"p","x":0.05,"y":0.003},{"k":"p","x":0.6,"y":-0.01},{"k":"p","x":0.75,"y":-0.015},{"k":"p","x":0.9,"y":-0.02},{"k":"p","x":1.05,"y":-0.017},{"k":"p","x":1.2,"y":-0.02},{"k":"p","x":1.35,"y":-0.018},{"k":"p","x":1.5,"y":-0.02},{"k":"p","x":1.65,"y":-0.016},{"k":"p","x":1.8,"y":-0.02},{"k":"p","x":1.9,"y":-0.015},
    {"k":"m","x":-1.85,"y":-0.035},{"k":"m","x":-1.7,"y":-0.04},{"k":"m","x":-1.5,"y":-0.045},{"k":"m","x":-1.3,"y":-0.04},{"k":"m","x":-1.1,"y":-0.045},{"k":"m","x":-0.9,"y":-0.04},{"k":"m","x":-0.75,"y":-0.035},{"k":"m","x":-0.6,"y":-0.03},{"k":"m","x":-1.6,"y":-0.08},{"k":"m","x":0.05,"y":-0.085},{"k":"m","x":0.7,"y":-0.03},{"k":"m","x":0.85,"y":-0.035},{"k":"m","x":1.0,"y":-0.04},{"k":"m","x":1.15,"y":-0.045},{"k":"m","x":1.3,"y":-0.04},{"k":"m","x":1.5,"y":-0.045},{"k":"m","x":1.7,"y":-0.04},{"k":"m","x":1.85,"y":-0.05},{"k":"m","x":1.65,"y":-0.08}]},
   "mark": {"type": "circle", "size": 7, "opacity": 1},
   "encoding": {
    "x": {"field": "x", "type": "quantitative", "scale": {"domain": [-2, 2]}, "axis": {"values": [-2, -1, 0, 1, 2], "labelExpr": "abs(datum.value)==2?datum.label:''", "title": "Re ω", "titleX": 31, "titleY": 11}},
    "y": {"field": "y", "type": "quantitative", "scale": {"domain": [-0.1375, 0.025]}, "axis": {"values": [0, -0.1], "title": "-Im ω", "titleX": -24, "titleY": 20}},
    "color": {"field": "k", "type": "nominal", "scale": {"domain": ["p","m"], "range": ["#ff8c40","#a8862c"]}, "legend": null}
   }},
  {"data": {"values": [{"x": 0.6, "y": 0.002, "lab": "ω₊"}]}, "mark": {"type": "text", "color": "#ff8c40", "fontStyle": "italic", "fontSize": 9}, "encoding": {"x": {"field": "x", "type": "quantitative"}, "y": {"field": "y", "type": "quantitative"}, "text": {"field": "lab"}}},
  {"data": {"values": [{"x": 0.6, "y": -0.068, "lab": "ω₋"}]}, "mark": {"type": "text", "color": "#a8862c", "fontStyle": "italic", "fontSize": 9}, "encoding": {"x": {"field": "x", "type": "quantitative"}, "y": {"field": "y", "type": "quantitative"}, "text": {"field": "lab"}}}
 ]}
]
}
